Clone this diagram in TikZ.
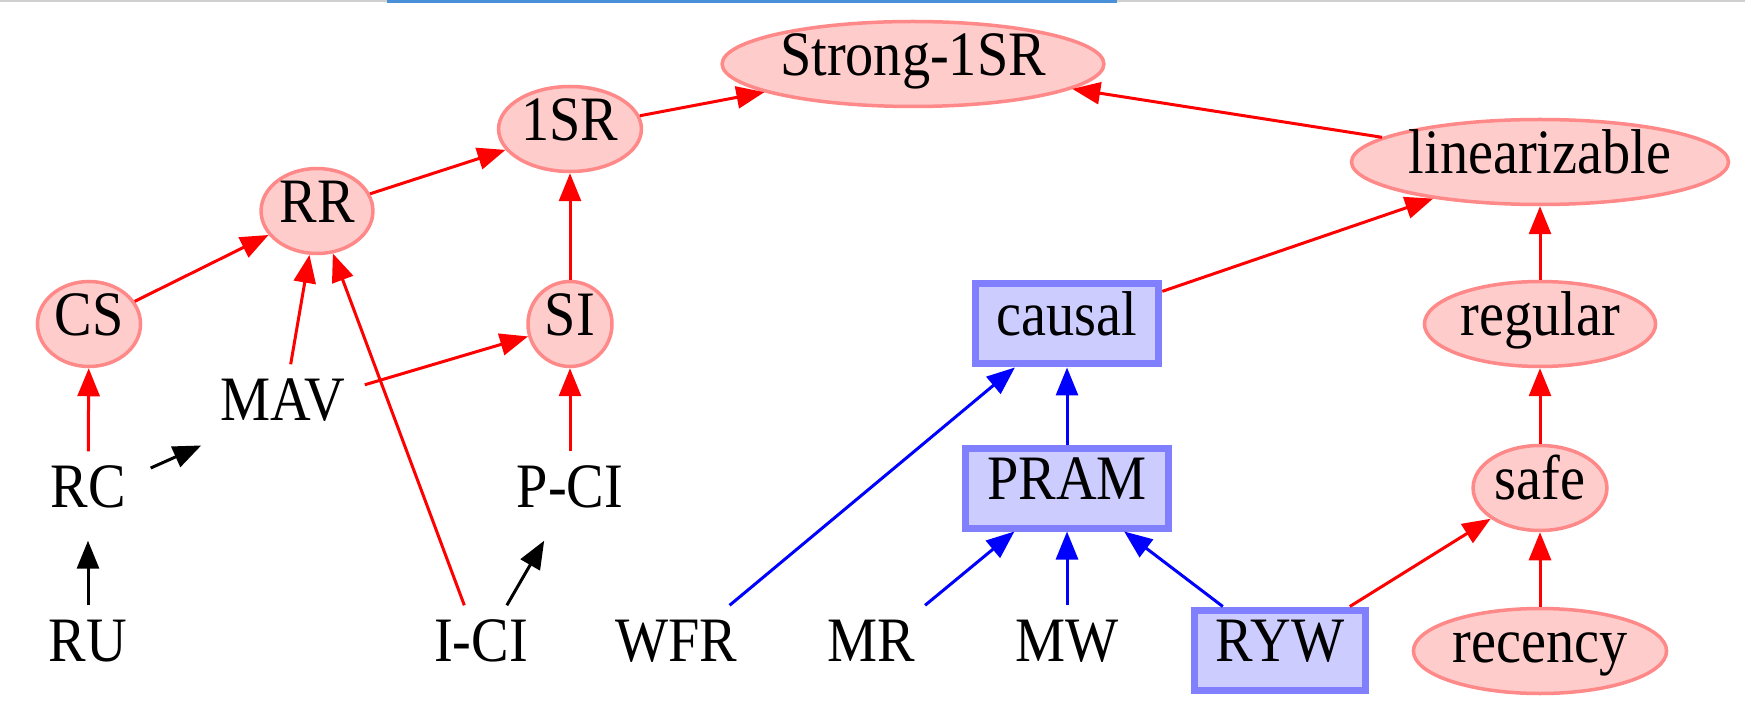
\documentclass[tikz,border=0pt]{standalone}
\usepackage{fontspec}
\setmainfont[FakeStretch=0.89]{Liberation Serif}
\usetikzlibrary{arrows.meta, shapes.geometric}

\definecolor{modelfill}{HTML}{FFCCCC}
\definecolor{modelline}{HTML}{FF8888}
\definecolor{sessfill}{HTML}{CCCCFF}
\definecolor{sessline}{HTML}{8080FF}
\definecolor{tabgray}{HTML}{D0D0D0}
\definecolor{tabblue}{HTML}{4A90D9}

\begin{document}
\begin{tikzpicture}[
    x=0.1mm, y=-0.1mm,
    font=\fontsize{18}{20}\selectfont,
    arr/.style={-{Triangle[length=2.8mm, width=2.2mm]}, line width=0.3mm},
    redarr/.style={arr, red},
    bluearr/.style={arr, blue},
    model/.style={
        ellipse, draw=modelline, line width=0.35mm, fill=modelfill,
        inner xsep=0.2mm, inner ysep=0mm,
        minimum width=8.4mm, minimum height=8.5mm,
        text height=0.66em, text depth=0pt
    },
    session/.style={
        rectangle, draw=sessline, line width=0.7mm, fill=sessfill,
        inner xsep=2.15mm, inner ysep=0mm, minimum height=8.0mm,
        text height=0.66em, text depth=0pt
    },
    bare/.style={
        rectangle, inner xsep=1.9mm, inner ysep=0mm,
        minimum width=12.4mm, minimum height=8.8mm,
        text height=0.66em, text depth=0pt
    },
]
    \useasboundingbox (0,0) rectangle (1745,710);

    % Browser edge at the top of the screenshot
    \fill[tabgray] (0,0) rectangle (1745,2);
    \fill[tabblue] (387,0) rectangle (1117,3);

    % Transactional models (red)
    \node[model] (strong)  at (913,64)  {Strong-1SR};
    \node[model] (onesr)   at (570,129) {1SR};
    \node[model] (rr)      at (317,211) {RR};
    \node[model] (cs)      at (89,324)  {CS};
    \node[model] (si)      at (570,324) {SI};

    % Register models (red)
    \node[model] (linz)    at (1540,162) {linearizable};
    \node[model] (regular) at (1540,324) {regular};
    \node[model] (safe)    at (1540,488) {safe};
    \node[model] (recency) at (1540,651) {recency};

    % Session models (blue)
    \node[session] (causal) at (1067,324) {causal};
    \node[session] (pram)   at (1067,488) {PRAM};
    \node[session] (ryw)    at (1280,650) {RYW};

    % Plain models
    \node[bare] (mav) at (283,409) {MAV};
    \node[bare] (rc)  at (88,496)  {RC};
    \node[bare] (pci) at (570,496) {P-CI};
    \node[bare] (ru)  at (88,650)  {RU};
    \node[bare] (ici) at (481,650) {I-CI};
    \node[bare] (wfr) at (676,650) {WFR};
    \node[bare] (mr)  at (871,650) {MR};
    \node[bare] (mw)  at (1067,650) {MW};

    % Red edges
    \draw[redarr] (onesr)   -- (strong);
    \draw[redarr] (linz)    -- (strong);
    \draw[redarr] (rr)      -- (onesr);
    \draw[redarr] (si)      -- (onesr);
    \draw[redarr] (cs)      -- (rr);
    \draw[redarr] (mav)     -- (rr);
    \draw[redarr] (ici)     -- (rr);
    \draw[redarr] (mav)     -- (si);
    \draw[redarr] (rc)      -- (cs);
    \draw[redarr] (pci)     -- (si);
    \draw[redarr] (causal)  -- (linz);
    \draw[redarr] (regular) -- (linz);
    \draw[redarr] (safe)    -- (regular);
    \draw[redarr] (recency) -- (safe);
    \draw[redarr] (ryw)     -- (safe);

    % Black edges
    \draw[arr] (ru)  -- (rc);
    \draw[arr] (rc)  -- (mav);
    \draw[arr] (ici) -- (pci);

    % Blue edges
    \draw[bluearr] (wfr)  -- (causal);
    \draw[bluearr] (pram) -- (causal);
    \draw[bluearr] (mr)   -- (pram);
    \draw[bluearr] (mw)   -- (pram);
    \draw[bluearr] (ryw)  -- (pram);

\end{tikzpicture}
\end{document}
